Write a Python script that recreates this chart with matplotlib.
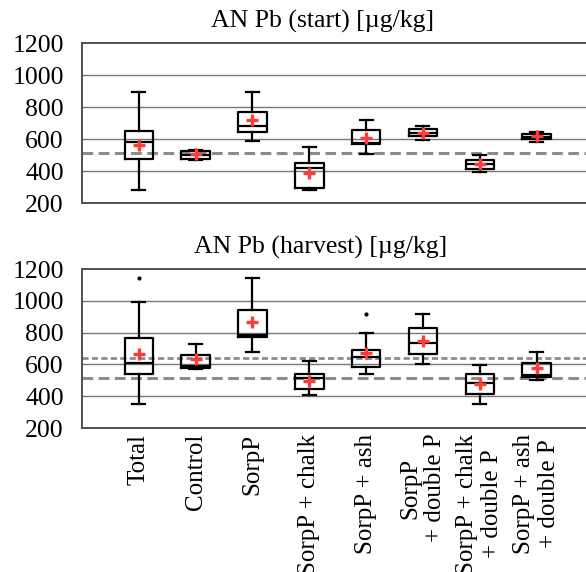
import matplotlib
matplotlib.use("Agg")
import matplotlib.pyplot as plt

categories = ["Total", "Control", "SorpP", "SorpP + chalk", "SorpP + ash",
              "SorpP\n+ double P", "SorpP + chalk\n+ double P", "SorpP + ash\n+ double P"]

# start panel: whisker low, q1, median, q3, whisker high, mean
start_wlo = [283, 467, 590, 283, 506, 592, 392, 583]
start_q1  = [477, 473, 642, 294, 567, 617, 410, 600]
start_med = [581, 502, 681, 419, 575, 637, 442, 612]
start_q3  = [648, 523, 769, 448, 654, 663, 471, 633]
start_whi = [892, 529, 892, 548, 721, 681, 500, 646]
start_mean = [565, 504, 717, 387, 606, 640, 442, 617]
start_fliers = [[], [], [], [], [], [], [], []]
start_ref = [512]

harv_wlo = [350, 572, 679, 408, 540, 601, 350, 503]
harv_q1  = [540, 580, 775, 448, 582, 666, 416, 519]
harv_med = [612, 593, 786, 513, 645, 733, 486, 534]
harv_q3  = [765, 660, 943, 540, 691, 826, 540, 607]
harv_whi = [994, 727, 1146, 622, 796, 918, 597, 675]
harv_mean = [664, 633, 865, 498, 670, 748, 476, 580]
harv_fliers = [[1143], [], [], [], [916], [], [], []]
harv_ref_upper = [643]
harv_ref_lower = [513]

titles = ["AN Pb (start) [\u00b5g/kg]", "AN Pb (harvest) [\u00b5g/kg]"]
yticks = [200, 400, 600, 800, 1000, 1200]

plt.rcParams['font.family'] = ['Liberation Serif', 'DejaVu Serif']

fig = plt.figure(figsize=(5.86, 5.72), dpi=100)
ax1 = fig.add_axes([0.14, 0.645, 0.86, 0.2797])
ax2 = fig.add_axes([0.14, 0.2517, 0.86, 0.278])


def make_stats(wlo, q1, med, q3, whi, mean, fl):
    out = []
    for i in range(len(wlo)):
        out.append(dict(whislo=wlo[i], q1=q1[i], med=med[i], q3=q3[i],
                        whishi=whi[i], mean=mean[i], fliers=fl[i]))
    return out


def draw(ax, stats):
    pos = list(range(1, len(stats) + 1))
    ax.bxp(stats, positions=pos, widths=0.5, showmeans=True, showfliers=True,
           boxprops=dict(color='black', linewidth=1.6),
           whiskerprops=dict(color='black', linewidth=1.6),
           capprops=dict(color='black', linewidth=1.6),
           medianprops=dict(color='black', linewidth=1.6),
           capwidths=0.23,
           meanprops=dict(marker='+', markeredgecolor='#ff3b3b', markersize=8,
                          markeredgewidth=2.4, linestyle='none'),
           flierprops=dict(marker='o', markersize=2, markerfacecolor='black',
                           markeredgecolor='black'),
           zorder=3)
    ax.set_xlim(0, 8.87)
    ax.set_ylim(200, 1200)
    ax.set_yticks(yticks)
    ax.tick_params(axis='y', length=0, labelsize=18.5, pad=13)
    ax.tick_params(axis='x', length=0)
    for y in [400, 600, 800, 1000]:
        ax.axhline(y, color='#777777', linewidth=1.0, zorder=1)
    ax.spines['right'].set_visible(False)
    for s in ['top', 'left', 'bottom']:
        ax.spines[s].set_color('#505050')
        ax.spines[s].set_linewidth(1.4)
    return pos


pos1 = draw(ax1, make_stats(start_wlo, start_q1, start_med, start_q3,
                            start_whi, start_mean, start_fliers))
for v in start_ref:
    ax1.axhline(v, color='#8c8c8c', linewidth=2.2, linestyle=(0, (3.5, 1.8)), zorder=2)
ax1.set_xticks(pos1)
ax1.set_xticklabels([])

pos2 = draw(ax2, make_stats(harv_wlo, harv_q1, harv_med, harv_q3,
                            harv_whi, harv_mean, harv_fliers))
for v in harv_ref_upper:
    ax2.axhline(v, color='#8c8c8c', linewidth=2.0, linestyle=(0, (2.2, 1.2)), zorder=2)
for v in harv_ref_lower:
    ax2.axhline(v, color='#8c8c8c', linewidth=2.2, linestyle=(0, (3.5, 1.8)), zorder=2)
ax2.set_xticks(pos2)
ax2.set_xticklabels(categories, rotation=90, fontsize=18, ha='center', va='top',
                    multialignment='center', linespacing=1.15)
ax2.tick_params(axis='x', pad=4)

fig.text(0.551, 0.963, titles[0], ha='center', va='center', fontsize=18.5)
fig.text(0.547, 0.567, titles[1], ha='center', va='center', fontsize=18.5)

fig.savefig("out.png", dpi=100)
